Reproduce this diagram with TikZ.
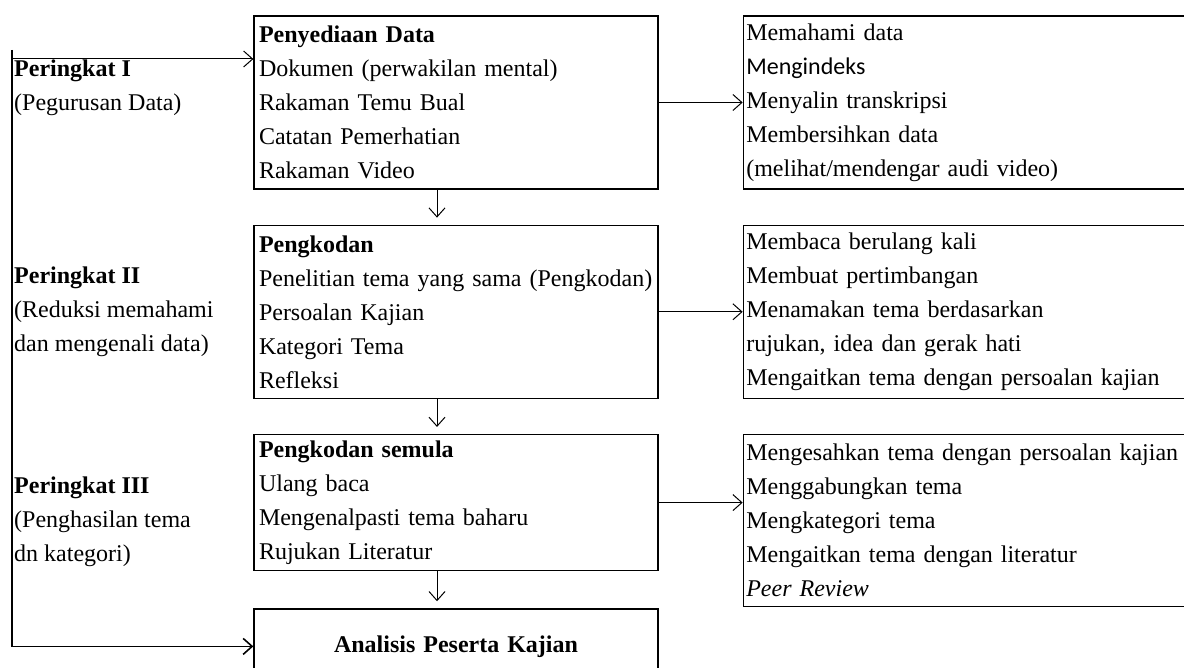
\documentclass[tikz,border=0pt]{standalone}
\usepackage{fontspec}
\setmainfont{Liberation Serif}
\newfontfamily\calibri{Carlito}
\usetikzlibrary{positioning,arrows.meta}

\begin{document}
\begin{tikzpicture}[x=1pt,y=-1pt,>={Straight Barb[length=9pt,width=16pt]},
  every node/.style={font=\fontsize{24}{34}\selectfont},
  box/.style={draw,line width=1.3pt,align=left,inner xsep=5pt,inner ysep=0pt,text width=394pt},
  note/.style={draw,line width=1.3pt,align=left,inner xsep=3pt,inner ysep=0pt,text width=442pt},
  lvl/.style={align=left,inner sep=2pt,anchor=west},
  link/.style={draw,->,line width=1pt}]
  \useasboundingbox (0,0) rectangle (1184,668);
  % middle column
  \node (b1) [box,minimum height=173pt] at (456,102.5) {\textbf{Penyediaan Data}\\Dokumen (perwakilan mental)\\Rakaman Temu Bual\\Catatan Pemerhatian\\Rakaman Video};
  \node (b2) [box,minimum height=173pt,below=35pt of b1] {\textbf{Pengkodan}\\Penelitian tema yang sama (Pengkodan)\\Persoalan Kajian\\Kategori Tema\\Refleksi};
  \node (b3) [box,minimum height=136pt,below=35pt of b2] {\textbf{Pengkodan semula}\\Ulang baca\\Mengenalpasti tema baharu\\Rujukan Literatur};
  \node (b4) [box,minimum height=75pt,below=37pt of b3,align=center] {\textbf{Analisis Peserta Kajian}};
  % right column
  \node (r1) [note,minimum height=173pt,right=84pt of b1.north east,anchor=north west] {Memahami data\\{\calibri Mengindeks}\\Menyalin transkripsi\\Membersihkan data\\(melihat/mendengar audi video)};
  \node (r2) [note,minimum height=173pt,right=84pt of b2.north east,anchor=north west] {Membaca berulang kali\\Membuat pertimbangan\\Menamakan tema berdasarkan\\rujukan, idea dan gerak hati\\Mengaitkan tema dengan persoalan kajian};
  \node (r3) [note,minimum height=172pt,right=84pt of b3.north east,anchor=north west] {Mengesahkan tema dengan persoalan kajian\\Menggabungkan tema\\Mengkategori tema\\Mengaitkan tema dengan literatur\\\textit{Peer Review}};
  % levels
  \node (l1) [lvl] at (12,88) {\textbf{Peringkat I}\\(Pegurusan Data)};
  \node (l2) [lvl] at (12,311.5) {\textbf{Peringkat II}\\(Reduksi memahami\\dan mengenali data)};
  \node (l3) [lvl] at (12,522) {\textbf{Peringkat III}\\(Penghasilan tema\\dn kategori)};
  \coordinate (lt) at (12,50);
  \coordinate (la) at (12,59);
  % connectors
  \path[link] (la) -- (la -| b1.west);
  \path[link,line width=1.6pt] (lt) |- (b4.west);
  \path[link,shorten >=7pt] ([xshift=-19pt]b1.south) -- ([xshift=-19pt]b2.north);
  \path[link,shorten >=7pt] ([xshift=-19pt]b2.south) -- ([xshift=-19pt]b3.north);
  \path[link,shorten >=7pt] ([xshift=-19pt]b3.south) -- ([xshift=-19pt]b4.north);
  \path[link] (b1.east) -- (b1.east -| r1.west);
  \path[link] (b2.east) -- (b2.east -| r2.west);
  \path[link] (b3.east) -- (b3.east -| r3.west);
\end{tikzpicture}
\end{document}
